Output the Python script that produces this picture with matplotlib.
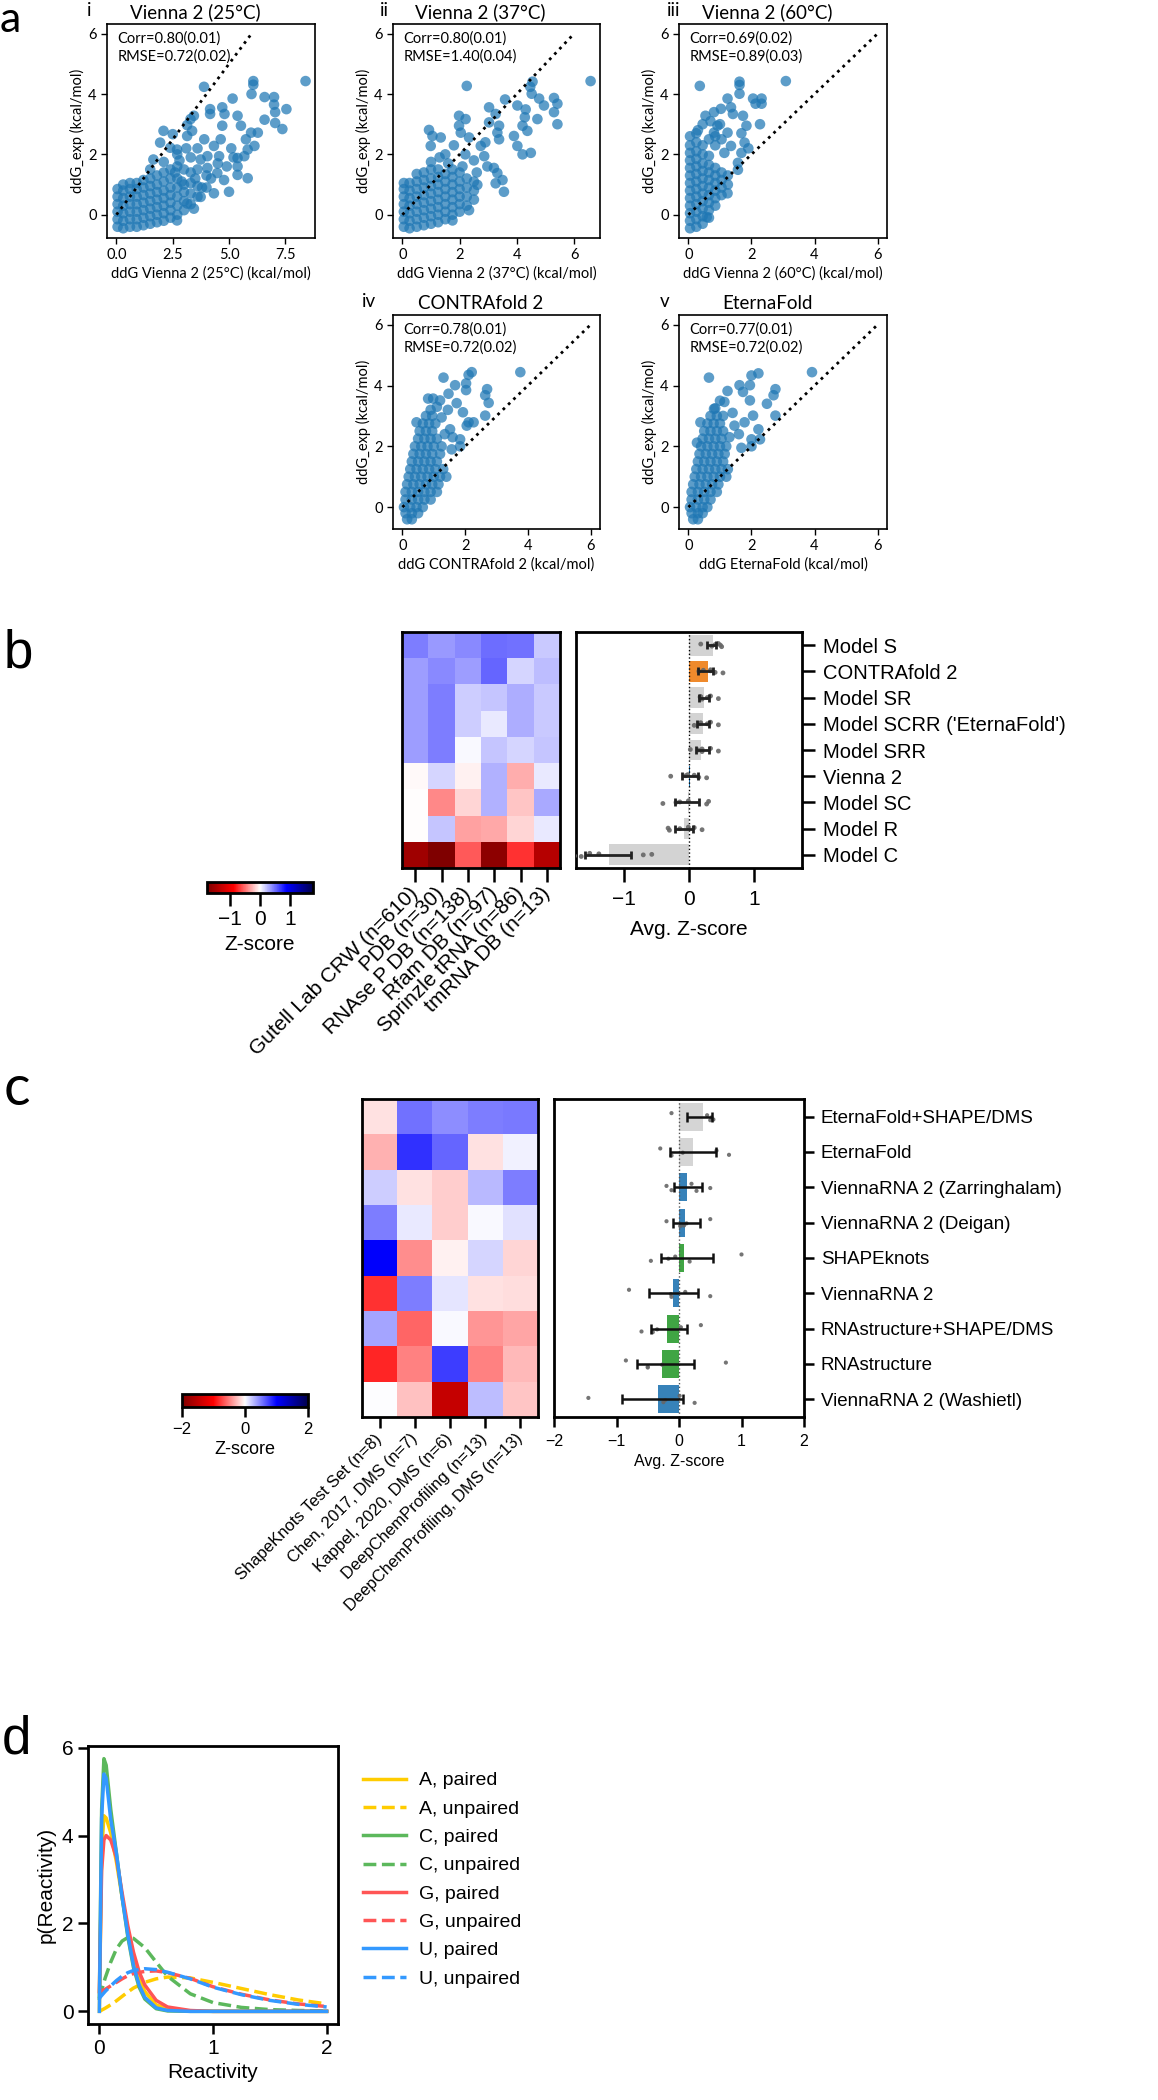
import matplotlib
matplotlib.use('Agg')
import matplotlib.pyplot as plt

plt.rcParams['font.family'] = ['Liberation Sans', 'DejaVu Sans']
FA = ['Lato', 'DejaVu Sans']   # panel a font (Myriad-like)

# ---------------------------------------------------------------
# Panel a: scatter points
# sparse points as (x, y); dense cores as columns (x, [y...]) or rows (y, [x...])
# ---------------------------------------------------------------
v25_pts = [(8.40, 4.43), (6.08, 4.43), (6.08, 4.31), (6.00, 4.00), (6.58, 3.90), (7.00, 3.90), (7.00, 3.65),
           (7.55, 3.50), (7.05, 3.40), (6.58, 3.15), (7.05, 3.04), (7.37, 2.84), (3.89, 4.24), (5.16, 3.85),
           (4.70, 3.56), (4.16, 3.50), (4.16, 3.34), (4.80, 3.34), (3.44, 3.28), (3.29, 3.17), (3.14, 2.97),
           (3.36, 2.78), (3.14, 2.61), (2.09, 2.78), (2.50, 2.67), (1.94, 2.39), (2.39, 2.22), (2.69, 2.16),
           (1.64, 1.83), (5.38, 3.28), (5.53, 2.95), (5.75, 2.50), (5.98, 2.72), (6.28, 2.72), (6.13, 2.28),
           (5.83, 2.16), (5.68, 1.94), (5.38, 1.88), (5.38, 1.60), (5.38, 1.32), (5.83, 1.21), (4.70, 2.95),
           (4.63, 2.50), (4.33, 2.28), (4.56, 1.94), (4.04, 1.94), (3.74, 1.83), (4.04, 1.55), (4.48, 1.38),
           (4.78, 1.15), (5.00, 0.76), (4.33, 0.71), (3.74, 0.59), (3.44, 0.20), (2.69, -0.19), (3.14, 0.37),
           (3.00, 1.50), (3.30, 1.90), (2.80, 1.80), (3.60, 2.20), (3.90, 2.50), (3.50, 1.20), (2.90, 1.10),
           (4.20, 1.20), (3.80, 0.90), (4.50, 1.70), (5.10, 2.20), (4.90, 1.60), (5.20, 1.90), (2.60, 1.40),
           (3.10, 2.20)]
v25_core = [(0.05, [-0.40, -0.15, 0.10, 0.35, 0.60, 0.85]),
            (0.30, [-0.45, -0.20, 0.05, 0.30, 0.55, 0.80, 1.00]),
            (0.60, [-0.40, -0.15, 0.10, 0.35, 0.60, 0.85, 1.05]),
            (0.90, [-0.40, -0.15, 0.10, 0.35, 0.60, 0.85, 1.05]),
            (1.20, [-0.35, -0.10, 0.15, 0.40, 0.65, 0.90, 1.15]),
            (1.50, [-0.30, -0.05, 0.20, 0.45, 0.70, 0.95, 1.20, 1.50]),
            (1.80, [-0.25, 0.00, 0.25, 0.50, 0.75, 1.00, 1.30]),
            (2.10, [-0.20, 0.05, 0.30, 0.55, 0.80, 1.10, 1.40, 1.75]),
            (2.40, [-0.10, 0.15, 0.40, 0.65, 0.90, 1.20, 1.50]),
            (2.70, [0.00, 0.30, 0.60, 0.90, 1.20, 1.60, 2.00]),
            (3.00, [0.15, 0.45, 0.75, 1.00]),
            (3.30, [0.35, 0.70, 1.05, 1.40]),
            (3.60, [0.60, 0.95, 1.50]),
            (4.00, [0.90, 1.30])]

v37_pts = [(6.58, 4.43), (4.55, 4.41), (4.47, 4.24), (2.25, 4.27), (4.52, 4.01), (4.78, 3.85), (5.30, 3.87),
           (5.42, 3.68), (4.95, 3.62), (5.30, 3.40), (5.42, 3.00), (4.72, 3.17), (3.59, 3.82), (4.02, 3.62),
           (4.31, 3.49), (4.28, 3.23), (4.20, 2.95), (4.37, 2.78), (4.02, 2.28), (3.90, 2.61), (4.49, 2.05),
           (4.20, 2.00), (3.03, 3.56), (3.26, 3.34), (3.38, 2.95), (3.03, 3.06), (3.32, 2.72), (3.38, 2.50),
           (1.98, 3.28), (2.21, 3.17), (1.98, 2.95), (2.04, 2.72), (2.33, 2.56), (0.93, 2.81), (1.05, 2.61),
           (1.34, 2.56), (0.99, 2.28), (2.74, 2.28), (2.86, 1.94), (2.97, 1.60), (3.20, 1.55), (3.32, 1.38),
           (3.50, 1.15), (3.26, 1.04), (3.55, 0.76), (2.33, 0.15), (1.75, -0.19), (2.62, 0.99), (1.50, 2.00),
           (1.80, 2.30), (2.20, 2.00), (1.30, 1.90), (2.50, 1.80), (2.60, 1.40), (2.90, 2.40), (1.60, 1.70),
           (2.10, 1.60)]
v37_core = [(0.05, [-0.40, -0.15, 0.10, 0.35, 0.60, 0.85, 1.05]),
            (0.25, [-0.45, -0.20, 0.05, 0.30, 0.55, 0.80, 1.05]),
            (0.50, [-0.40, -0.15, 0.10, 0.35, 0.60, 0.85, 1.10, 1.35]),
            (0.75, [-0.35, -0.10, 0.15, 0.40, 0.65, 0.90, 1.15, 1.40]),
            (1.00, [-0.30, -0.05, 0.20, 0.45, 0.70, 0.95, 1.20, 1.50, 1.75]),
            (1.25, [-0.25, 0.00, 0.25, 0.50, 0.75, 1.00, 1.25, 1.50]),
            (1.50, [-0.15, 0.10, 0.35, 0.60, 0.85, 1.10, 1.35]),
            (1.75, [0.00, 0.25, 0.50, 0.75, 1.00, 1.25, 1.50]),
            (2.00, [0.10, 0.35, 0.60, 0.85, 1.10, 1.40]),
            (2.25, [0.30, 0.60, 0.90, 1.20]),
            (2.50, [0.50, 0.80, 1.10])]

v60_pts = [(3.09, 4.43), (0.36, 4.27), (1.62, 4.41), (1.62, 4.30), (1.62, 4.01), (2.05, 3.85), (2.32, 3.85),
           (2.13, 3.68), (2.32, 3.68), (2.27, 3.00), (1.24, 3.85), (1.03, 3.51), (0.81, 3.40), (0.54, 3.28),
           (1.35, 3.56), (1.41, 3.34), (0.92, 2.95), (0.81, 2.72), (0.65, 2.50), (1.24, 2.72), (1.35, 2.28),
           (1.14, 2.05), (1.73, 3.28), (1.84, 2.95), (1.78, 2.39), (1.68, 2.05), (1.57, 1.72), (1.57, 1.49),
           (1.24, 0.71), (1.68, 2.70), (1.90, 2.20), (1.00, 3.00), (0.70, 3.10), (0.45, 3.00), (0.30, 2.80),
           (0.58, -0.08)]
v60_core = [(0.05, [-0.45, -0.20, 0.05, 0.30, 0.55, 0.80, 1.05, 1.30, 1.55, 1.80, 2.05, 2.30, 2.60]),
            (0.25, [-0.40, -0.15, 0.10, 0.35, 0.60, 0.85, 1.10, 1.35, 1.60, 1.85, 2.10, 2.40, 2.70]),
            (0.45, [-0.30, -0.05, 0.20, 0.45, 0.70, 0.95, 1.20, 1.45, 1.70, 2.00, 2.30]),
            (0.65, [-0.10, 0.15, 0.40, 0.65, 0.90, 1.15, 1.40, 1.65, 1.95]),
            (0.85, [0.30, 0.55, 0.80, 1.05, 1.30, 1.55, 2.30, 2.60]),
            (1.05, [0.65, 0.90, 1.15, 1.40, 2.50]),
            (1.25, [1.00, 1.30])]

cf2_pts = [(3.76, 4.44), (2.21, 4.44), (2.11, 4.35), (1.31, 4.26), (2.70, 3.88), (2.64, 3.68), (2.75, 3.43),
           (2.64, 3.01), (2.03, 4.07), (2.03, 3.85), (1.47, 3.73), (1.68, 4.01), (1.73, 3.42), (1.93, 3.12),
           (2.11, 2.79), (2.27, 2.79), (2.05, 2.68), (1.20, 3.51), (0.98, 3.57), (0.82, 3.57), (0.45, 2.79),
           (1.52, 2.56), (1.25, 2.95), (1.84, 2.23), (1.84, 2.00), (1.57, 1.90), (1.25, 2.00), (1.45, 3.20),
           (1.10, 3.30), (0.90, 3.20), (1.60, 2.30), (1.35, 2.40)]
cf2_core = [(-0.40, [0.15, 0.30]),
            (-0.20, [0.10, 0.30, 0.50]),
            (0.00, [0.05, 0.25, 0.45, 0.65]),
            (0.25, [0.10, 0.30, 0.50, 0.70, 0.90]),
            (0.50, [0.10, 0.30, 0.50, 0.70, 0.90, 1.10]),
            (0.75, [0.15, 0.35, 0.55, 0.75, 0.95, 1.15]),
            (1.00, [0.20, 0.40, 0.60, 0.80, 1.00, 1.20, 1.40]),
            (1.25, [0.25, 0.45, 0.65, 0.85, 1.05, 1.30]),
            (1.50, [0.30, 0.50, 0.70, 0.90, 1.10]),
            (1.75, [0.35, 0.55, 0.75, 0.95, 1.20]),
            (2.00, [0.40, 0.60, 0.80, 1.00]),
            (2.25, [0.50, 0.70, 0.90, 1.10]),
            (2.50, [0.55, 0.75, 0.95]),
            (2.75, [0.65, 0.85, 1.05]),
            (3.00, [0.75, 0.95])]

ef_pts = [(3.92, 4.44), (2.22, 4.40), (2.00, 4.33), (0.65, 4.26), (2.76, 3.88), (2.70, 3.68), (2.76, 3.01),
          (2.49, 3.40), (1.95, 4.01), (1.73, 3.79), (1.95, 3.51), (1.24, 3.82), (1.62, 4.01), (2.05, 3.01),
          (2.22, 2.56), (2.00, 2.23), (2.27, 2.23), (1.68, 1.95), (2.00, 2.00), (1.46, 2.68), (1.78, 2.79),
          (0.81, 3.23), (0.38, 2.79), (0.27, 2.12), (1.14, 3.46), (1.40, 3.10), (1.00, 3.50), (1.60, 2.40),
          (1.30, 2.30)]
ef_core = [(-0.40, [0.15, 0.30]),
           (-0.20, [0.10, 0.30, 0.45]),
           (0.00, [0.05, 0.25, 0.45, 0.60]),
           (0.25, [0.10, 0.30, 0.50, 0.70]),
           (0.50, [0.10, 0.30, 0.50, 0.70, 0.90]),
           (0.75, [0.15, 0.35, 0.55, 0.75, 0.95]),
           (1.00, [0.20, 0.40, 0.60, 0.80, 1.00, 1.20]),
           (1.25, [0.25, 0.45, 0.65, 0.85, 1.05, 1.25]),
           (1.50, [0.30, 0.50, 0.70, 0.90, 1.10]),
           (1.75, [0.35, 0.55, 0.75, 0.95, 1.15]),
           (2.00, [0.40, 0.60, 0.80, 1.00, 1.20]),
           (2.25, [0.45, 0.65, 0.85, 1.05]),
           (2.50, [0.50, 0.70, 0.90, 1.10]),
           (2.75, [0.60, 0.80, 1.00]),
           (3.00, [0.70, 0.90, 1.10]),
           (3.25, [0.85])]

a_titles = ['Vienna 2 (25°C)', 'Vienna 2 (37°C)', 'Vienna 2 (60°C)', 'CONTRAfold 2', 'EternaFold']
a_xlabels = ['ddG Vienna 2 (25°C) (kcal/mol)', 'ddG Vienna 2 (37°C) (kcal/mol)',
             'ddG Vienna 2 (60°C) (kcal/mol)', 'ddG CONTRAfold 2 (kcal/mol)', 'ddG EternaFold (kcal/mol)']
a_corr = ['0.80(0.01)', '0.80(0.01)', '0.69(0.02)', '0.78(0.01)', '0.77(0.01)']
a_rmse = ['0.72(0.02)', '1.40(0.04)', '0.89(0.03)', '0.72(0.02)', '0.72(0.02)']
a_roman = ['i', 'ii', 'iii', 'iv', 'v']

# ---------------------------------------------------------------
# Panel b
# ---------------------------------------------------------------
b_models = ['Model S', 'CONTRAfold 2', 'Model SR', "Model SCRR ('EternaFold')", 'Model SRR',
            'Vienna 2', 'Model SC', 'Model R', 'Model C']
b_datasets = ['Gutell Lab CRW (n=610)', 'PDB (n=30)', 'RNAse P DB (n=138)', 'Rfam DB (n=97)',
              'Sprinzle tRNA (n=86)', 'tmRNA DB (n=13)']
b_z = [[0.45, 0.35, 0.40, 0.50, 0.48, 0.18],
       [0.33, 0.40, 0.33, 0.52, 0.15, 0.22],
       [0.33, 0.45, 0.17, 0.20, 0.28, 0.18],
       [0.33, 0.45, 0.17, 0.08, 0.28, 0.18],
       [0.33, 0.45, 0.02, 0.20, 0.14, 0.20],
       [-0.02, 0.15, -0.05, 0.27, -0.28, 0.08],
       [-0.01, -0.40, -0.14, 0.27, -0.20, 0.30],
       [-0.01, 0.20, -0.32, -0.30, -0.14, 0.08],
       [-1.52, -1.75, -0.57, -1.65, -0.70, -1.38]]
b_mean = [0.37, 0.29, 0.23, 0.22, 0.19, 0.01, -0.01, -0.08, -1.23]
b_err_lo = [0.28, 0.14, 0.16, 0.12, 0.10, -0.11, -0.21, -0.22, -1.59]
b_err_hi = [0.42, 0.37, 0.31, 0.31, 0.30, 0.14, 0.15, 0.06, -0.89]
b_colors = ['#d3d3d3', '#ef8a2c', '#d3d3d3', '#d3d3d3', '#d3d3d3', '#1f77b4', '#d3d3d3', '#d3d3d3', '#d3d3d3']

# ---------------------------------------------------------------
# Panel c
# ---------------------------------------------------------------
c_models = ['EternaFold+SHAPE/DMS', 'EternaFold', 'ViennaRNA 2 (Zarringhalam)', 'ViennaRNA 2 (Deigan)',
            'SHAPEknots', 'ViennaRNA 2', 'RNAstructure+SHAPE/DMS', 'RNAstructure', 'ViennaRNA 2 (Washietl)']
c_datasets = ['ShapeKnots Test Set (n=8)', 'Chen, 2017, DMS (n=7)', 'Kappel, 2020, DMS (n=6)',
              'DeepChemProfiling (n=13)', 'DeepChemProfiling, DMS (n=13)']
c_z = [[-0.12, 0.55, 0.45, 0.50, 0.52],
       [-0.30, 0.80, 0.60, -0.12, 0.06],
       [0.20, -0.12, -0.20, 0.28, 0.50],
       [0.50, 0.08, -0.20, 0.02, 0.12],
       [1.00, -0.45, -0.06, 0.17, -0.17],
       [-0.80, 0.50, 0.10, -0.12, -0.13],
       [0.35, -0.60, 0.03, -0.42, -0.35],
       [-0.85, -0.50, 0.75, -0.50, -0.27],
       [0.01, -0.25, -1.45, 0.25, -0.22]]
c_mean = [0.38, 0.22, 0.13, 0.10, 0.08, -0.09, -0.19, -0.28, -0.33]
c_err_lo = [0.13, -0.15, -0.08, -0.09, -0.29, -0.48, -0.45, -0.68, -0.91]
c_err_hi = [0.52, 0.59, 0.36, 0.34, 0.54, 0.30, 0.13, 0.24, 0.06]
c_colors = ['#d3d3d3', '#d3d3d3', '#2c7bb6', '#2c7bb6', '#35a03a', '#2c7bb6', '#35a03a', '#35a03a', '#2c7bb6']

# ---------------------------------------------------------------
# Panel d: densities
# ---------------------------------------------------------------
d_x_paired = [0, 0.02, 0.04, 0.06, 0.1, 0.15, 0.2, 0.25, 0.3, 0.35, 0.4, 0.5, 0.6, 0.8, 1.0, 1.5, 2.0]
d_x_unpaired = [0, 0.05, 0.1, 0.15, 0.2, 0.25, 0.3, 0.4, 0.5, 0.6, 0.8, 1.0, 1.25, 1.5, 1.75, 2.0]
A_paired = [0, 3.6, 4.45, 4.4, 4.06, 3.4, 2.6, 1.85, 1.2, 0.75, 0.45, 0.15, 0.05, 0.01, 0, 0, 0]
A_unpaired = [0, 0.07, 0.15, 0.24, 0.34, 0.44, 0.53, 0.66, 0.74, 0.78, 0.76, 0.66, 0.52, 0.38, 0.26, 0.17]
C_paired = [0.3, 4.6, 5.75, 5.6, 4.6, 3.6, 2.6, 1.7, 1.0, 0.55, 0.28, 0.06, 0.01, 0, 0, 0, 0]
C_unpaired = [0.3, 0.75, 1.12, 1.42, 1.6, 1.68, 1.66, 1.45, 1.12, 0.8, 0.4, 0.2, 0.09, 0.04, 0.02, 0.01]
G_paired = [0.45, 3.2, 3.9, 4.0, 3.9, 3.5, 2.7, 1.95, 1.35, 0.9, 0.6, 0.25, 0.1, 0.02, 0, 0, 0]
G_unpaired = [0.45, 0.5, 0.58, 0.66, 0.74, 0.81, 0.86, 0.91, 0.92, 0.88, 0.75, 0.56, 0.39, 0.26, 0.17, 0.11]
U_paired = [0, 4.4, 5.4, 5.3, 4.36, 3.6, 2.6, 1.75, 1.05, 0.6, 0.32, 0.08, 0.02, 0, 0, 0, 0]
U_unpaired = [0.3, 0.45, 0.58, 0.7, 0.8, 0.88, 0.93, 0.97, 0.95, 0.89, 0.74, 0.55, 0.38, 0.25, 0.16, 0.1]
d_colors = {'A': '#ffcc00', 'C': '#5cb85c', 'G': '#ff5555', 'U': '#3399ff'}

# ---------------------------------------------------------------
W, H = 1158, 2100
fig = plt.figure(figsize=(W / 100, H / 100), dpi=100)


def px_axes(left, top, right, bottom):
    return fig.add_axes([left / W, 1 - bottom / H, (right - left) / W, (bottom - top) / H])


def fig_text(x, y, s, **kw):
    fig.text(x / W, 1 - y / H, s, **kw)


def expand_cols(pts, core):
    xs = [p[0] for p in pts]
    ys = [p[1] for p in pts]
    for cx, col in core:
        xs += [cx] * len(col)
        ys += col
    return xs, ys


def expand_rows(pts, core):
    xs = [p[0] for p in pts]
    ys = [p[1] for p in pts]
    for ry, row in core:
        xs += row
        ys += [ry] * len(row)
    return xs, ys


# ---------------- panel a ----------------
a_data = [expand_cols(v25_pts, v25_core), expand_cols(v37_pts, v37_core), expand_cols(v60_pts, v60_core),
          expand_rows(cf2_pts, cf2_core), expand_rows(ef_pts, ef_core)]
a_boxes = [(107, 24, 315, 238), (393, 24, 600, 238), (679, 24, 887, 238),
           (393, 315, 600, 529), (679, 315, 887, 529)]
a_roman_x = [87, 380, 667, 362, 660]
a_xticks = [[0, 2.5, 5, 7.5], [0, 2, 4, 6], [0, 2, 4, 6], [0, 2, 4, 6], [0, 2, 4, 6]]

for k in range(5):
    l, t, r, b = a_boxes[k]
    ax = px_axes(l, t, r, b)
    xs, ys = a_data[k]
    ax.scatter(xs, ys, s=58, color='#1f77b4', alpha=0.72, edgecolors='none', zorder=2)
    ax.plot([0, 6], [0, 6], color='k', ls=':', lw=2, zorder=3)
    ax.set_xticks(a_xticks[k])
    if k == 0:
        ax.set_xticklabels(['0.0', '2.5', '5.0', '7.5'])
    ax.set_yticks([0, 2, 4, 6])
    ax.tick_params(labelsize=10.5, length=4, width=1)
    for lbl in ax.get_xticklabels() + ax.get_yticklabels():
        lbl.set_family(FA)
    for s in ax.spines.values():
        s.set_linewidth(1.2)
    ax.set_xlabel(a_xlabels[k], fontsize=10.5, family=FA, labelpad=3)
    ax.set_ylabel('ddG_exp (kcal/mol)', fontsize=10.5, family=FA, labelpad=2)
    ax.text(0.05, 0.965, 'Corr=' + a_corr[k] + '\nRMSE=' + a_rmse[k], transform=ax.transAxes,
            va='top', ha='left', fontsize=10.5, family=FA, linespacing=1.35)
    fig_text((l + r) / 2 - 16, t - 6, a_titles[k], ha='center', va='baseline', fontsize=13.5, family=FA)
    fig_text(a_roman_x[k], t - 8, a_roman[k], ha='left', va='baseline', fontsize=13.5, family=FA)

fig_text(0, 1, 'a', fontsize=31, family=FA, va='top')

# ---------------- panel b ----------------
axh = px_axes(402, 632, 560, 868)
im_b = axh.imshow(b_z, cmap='seismic_r', vmin=-1.75, vmax=1.75, aspect='auto')
axh.set_yticks([])
axh.set_xticks(range(len(b_datasets)))
axh.set_xticklabels(b_datasets, rotation=45, ha='right', va='center', rotation_mode='anchor', fontsize=15)
axh.tick_params(axis='x', length=10, width=1.8, pad=6)
for s in axh.spines.values():
    s.set_linewidth(2)

cax_b = px_axes(207, 882, 313, 893)
cb = fig.colorbar(im_b, cax=cax_b, orientation='horizontal', ticks=[-1, 0, 1])
cb.ax.tick_params(labelsize=15, length=9, width=1.8)
cb.outline.set_linewidth(2)
cb.set_label('Z-score', fontsize=15, labelpad=4)

axb = px_axes(576, 632, 802, 868)
rows_b = list(range(len(b_models)))
axb.barh(rows_b, b_mean, height=0.8, color=b_colors, zorder=1)
axb.axvline(0, color='k', ls=':', lw=1, zorder=2)
jit_b = [-0.06, 0.04, -0.02, 0.06, 0.0, -0.04]
for i, row in enumerate(b_z):
    axb.scatter(row, [i + jit_b[j] for j in range(len(row))], s=12, color='#666666', alpha=0.9,
                edgecolors='none', zorder=3)
b_ctr = [(lo + hi) / 2 for lo, hi in zip(b_err_lo, b_err_hi)]
b_half = [(hi - lo) / 2 for lo, hi in zip(b_err_lo, b_err_hi)]
axb.errorbar(b_ctr, rows_b, xerr=b_half, fmt='none', ecolor='#222222', elinewidth=2, capsize=3,
             capthick=2, zorder=4)
axb.set_xlim(-1.73, 1.73)
axb.set_ylim(8.5, -0.5)
axb.set_xticks([-1, 0, 1])
axb.yaxis.tick_right()
axb.set_yticks(rows_b)
axb.set_yticklabels(b_models, fontsize=14.5)
axb.tick_params(axis='y', length=9, width=1.8, pad=6)
axb.tick_params(axis='x', length=10, width=1.8, labelsize=15, pad=6)
axb.set_xlabel('Avg. Z-score', fontsize=15, labelpad=8)
for s in axb.spines.values():
    s.set_linewidth(2)

fig_text(4, 668, 'b', fontsize=38, va='baseline')

# ---------------- panel c ----------------
axh2 = px_axes(362, 1099, 538, 1417)
im_c = axh2.imshow(c_z, cmap='seismic_r', vmin=-2, vmax=2, aspect='auto')
axh2.set_yticks([])
axh2.set_xticks(range(len(c_datasets)))
axh2.set_xticklabels(c_datasets, rotation=45, ha='right', va='center', rotation_mode='anchor', fontsize=12)
axh2.tick_params(axis='x', length=8, width=1.8, pad=6)
for s in axh2.spines.values():
    s.set_linewidth(2)

cax_c = px_axes(182, 1394, 308, 1407)
cb2 = fig.colorbar(im_c, cax=cax_c, orientation='horizontal', ticks=[-2, 0, 2])
cb2.ax.tick_params(labelsize=12, length=7, width=1.8)
cb2.outline.set_linewidth(2)
cb2.set_label('Z-score', fontsize=13, labelpad=3)

axc = px_axes(554, 1099, 804, 1417)
rows_c = list(range(len(c_models)))
axc.barh(rows_c, c_mean, height=0.8, color=c_colors, alpha=0.95, zorder=1)
axc.axvline(0, color='#555555', ls=':', lw=1, zorder=2)
jit_c = [-0.1, 0.08, -0.04, 0.1, 0.02]
for i, row in enumerate(c_z):
    axc.scatter(row, [i + jit_c[j] for j in range(len(row))], s=9, color='#666666', alpha=0.9,
                edgecolors='none', zorder=3)
c_ctr = [(lo + hi) / 2 for lo, hi in zip(c_err_lo, c_err_hi)]
c_half = [(hi - lo) / 2 for lo, hi in zip(c_err_lo, c_err_hi)]
axc.errorbar(c_ctr, rows_c, xerr=c_half, fmt='none', ecolor='#111111', elinewidth=1.8, capsize=3.5,
             capthick=1.8, zorder=4)
axc.set_xlim(-2, 2)
axc.set_ylim(8.5, -0.5)
axc.set_xticks([-2, -1, 0, 1, 2])
axc.yaxis.tick_right()
axc.set_yticks(rows_c)
axc.set_yticklabels(c_models, fontsize=13.5)
axc.tick_params(axis='y', length=7, width=1.8, pad=5)
axc.tick_params(axis='x', length=7, width=1.8, labelsize=11.5, pad=5)
axc.set_xlabel('Avg. Z-score', fontsize=11.5, labelpad=4)
for s in axc.spines.values():
    s.set_linewidth(2)

fig_text(4, 1105, 'c', fontsize=40, family=FA, va='baseline')

# ---------------- panel d ----------------
axd = px_axes(88, 1746, 338, 2024)
curves = [('A', A_paired, A_unpaired), ('C', C_paired, C_unpaired),
          ('G', G_paired, G_unpaired), ('U', U_paired, U_unpaired)]
for base, yp, yu in curves:
    axd.plot(d_x_paired, yp, color=d_colors[base], lw=2.5, label=base + ', paired')
    axd.plot(d_x_unpaired, yu, color=d_colors[base], lw=2.5, ls='--', label=base + ', unpaired')
axd.set_xticks([0, 1, 2])
axd.set_yticks([0, 2, 4, 6])
axd.tick_params(labelsize=15, length=7, width=1.8)
axd.set_xlabel('Reactivity', fontsize=15)
axd.set_ylabel('p(Reactivity)', fontsize=15)
for s in axd.spines.values():
    s.set_linewidth(2)
axd.legend(loc='upper left', bbox_to_anchor=(1.03, 0.97), frameon=False, fontsize=14,
           handlelength=2.2, handletextpad=0.7, labelspacing=0.55)

fig_text(2, 1753, 'd', fontsize=38, va='baseline')

fig.savefig('out.png', dpi=100)
